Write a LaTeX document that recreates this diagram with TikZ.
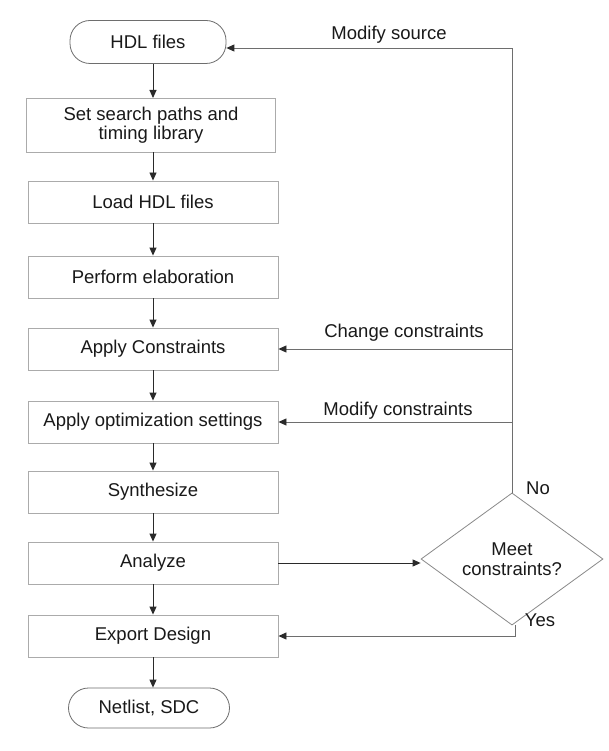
\documentclass[tikz,border=0pt]{standalone}
\usepackage{fontspec}
\setmainfont{Liberation Sans}
\usetikzlibrary{shapes.geometric,arrows.meta}
\definecolor{boxline}{HTML}{ABABAB}
\definecolor{arrowc}{HTML}{2A2A2A}
\definecolor{fbline}{HTML}{6E6E6E}
\tikzset{
  every node/.style={font=\fontsize{18.5}{19.5}\selectfont, text=black!90},
  procbox/.style={draw=boxline, line width=0.9pt, rectangle, minimum width=250pt, minimum height=42pt, inner sep=2pt, align=center},
  termbox/.style={draw=fbline, line width=0.8pt, rectangle, rounded corners=20pt, inner sep=2pt, align=center},
  decbox/.style={draw=boxline!80!black, line width=0.8pt, diamond, minimum width=182pt, minimum height=97pt, inner sep=0pt, align=center},
  flow/.style={draw=arrowc, line width=0.9pt, -{Triangle[length=8pt,width=7pt]}},
  fb/.style={draw=fbline, line width=0.9pt},
  fbarrow/.style={draw=fbline, line width=0.9pt, -{Triangle[length=8pt,width=7pt,color=arrowc]}},
  lbl/.style={inner sep=0pt}
}
\begin{document}
\begin{tikzpicture}[x=1pt,y=-1pt]
\useasboundingbox (0,0) rectangle (609,751);
\fill[white] (0,0) rectangle (609,751);

\node[termbox, minimum width=156pt, minimum height=43pt] (hdl) at (148,42) {HDL files};
\node[procbox, minimum width=249pt, minimum height=54pt] (set) at (151,125) {Set search paths and\\timing library};
\node[procbox] (load) at (153,202) {Load HDL files};
\node[procbox] (elab) at (153,277) {Perform elaboration};
\node[procbox] (ac) at (153,349) {Apply Constraints};
\node[procbox] (opt) at (153,422) {Apply optimization settings};
\node[procbox] (syn) at (153,492) {Synthesize};
\node[procbox] (ana) at (153,563) {Analyze};
\node[procbox] (exp) at (153,636) {Export Design};
\node[termbox, minimum width=161pt, minimum height=40pt] (net) at (149,708) {Netlist, SDC};
\node[decbox] (dia) at (512,559) {Meet\\constraints?};

\coordinate (top) at (511,48);

\draw[flow] (153,64) -- (153,98);
\draw[flow] (set.south -| load.north) -- (load.north);
\draw[flow] (load.south) -- (elab.north);
\draw[flow] (elab.south) -- (ac.north);
\draw[flow] (ac.south) -- (opt.north);
\draw[flow] (opt.south) -- (syn.north);
\draw[flow] (syn.south) -- (ana.north);
\draw[flow] (ana.south) -- (exp.north);
\draw[flow] (exp.south) -- (exp.south |- net.north);

\draw[flow] (ana.east) -- (dia.west |- ana.east);
\draw[fb] (dia.north) -- (dia.north |- top);
\draw[fbarrow] (dia.north |- top) -- (top -| hdl.east);
\draw[fbarrow] (dia.north |- ac.east) -- (ac.east);
\draw[fbarrow] (dia.north |- opt.east) -- (opt.east);
\draw[fbarrow] (dia.south) ++(3,0) coordinate (ys) -- (ys |- exp.east) -- (exp.east);

\node[lbl] (ms) at (389,35) {Modify source};
\node[lbl] (cc) at (404,333) {Change constraints};
\node[lbl] (mc) at (398,411) {Modify constraints};
\node[lbl] (no) at (538,488) {No};
\node[lbl] (yes) at (540,620) {Yes};
\end{tikzpicture}
\end{document}
